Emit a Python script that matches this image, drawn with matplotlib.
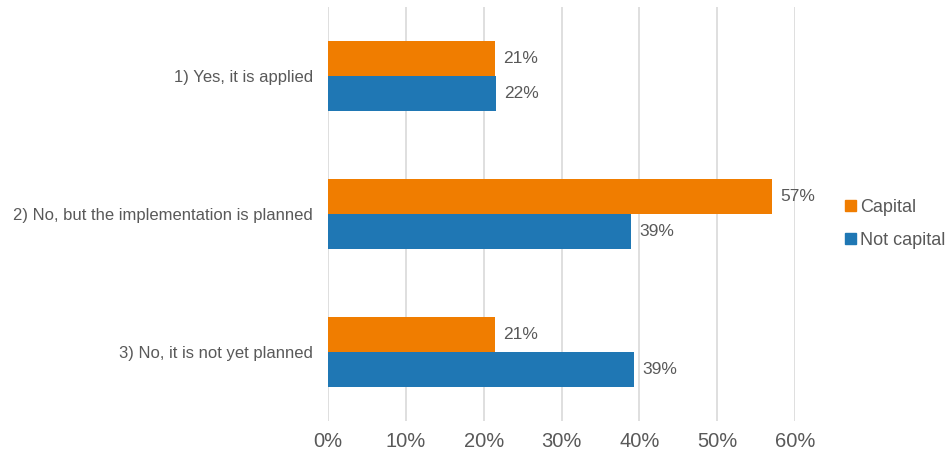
import matplotlib.pyplot as plt
import matplotlib as mpl
from matplotlib.patches import Patch

# data
categories = ['1) Yes, it is applied',
              '2) No, but the implementation is planned',
              '3) No, it is not yet planned']
capital = [21.4, 57.1, 21.4]
not_capital = [21.6, 38.9, 39.3]
series_names = ['Capital', 'Not capital']

ORANGE = '#F07D00'
BLUE = '#1F77B4'
GREY = '#595959'

mpl.rcParams['font.family'] = ['Liberation Sans', 'DejaVu Sans']

fig = plt.figure(figsize=(9.52, 4.55), dpi=100)
ax = fig.add_axes([328 / 952, 1 - 421 / 455, (795 - 328) / 952, 414 / 455])

pos = list(range(len(categories)))
h = 0.255
ax.barh([p - h / 2 for p in pos], capital, height=h, color=ORANGE, zorder=3)
ax.barh([p + h / 2 for p in pos], not_capital, height=h, color=BLUE, zorder=3)

# value labels next to the bars
for p, v in zip(pos, capital):
    ax.annotate(f'{v:.0f}%', (v, p - h / 2), xytext=(6, 0), textcoords='offset points',
                va='center', ha='left', fontsize=12.5, color=GREY)
for p, v in zip(pos, not_capital):
    ax.annotate(f'{v:.0f}%', (v, p + h / 2), xytext=(6, 0), textcoords='offset points',
                va='center', ha='left', fontsize=12.5, color=GREY)

ax.set_xlim(0, 60)
ax.set_ylim(2.5, -0.5)
ax.set_xticks(range(0, 61, 10))
ax.set_xticklabels([f'{t}%' for t in range(0, 61, 10)], fontsize=14.5, color=GREY)
ax.set_yticks(pos)
ax.set_yticklabels(categories, fontsize=12, color=GREY)
ax.tick_params(axis='both', length=0)
ax.tick_params(axis='x', pad=8)
ax.tick_params(axis='y', pad=11)
ax.grid(axis='x', color='#D9D9D9', linewidth=1.2, zorder=0)
for s in ax.spines.values():
    s.set_visible(False)

handles = [Patch(color=ORANGE), Patch(color=BLUE)]
fig.legend(handles, series_names, loc='center left', bbox_to_anchor=(845 / 952, 1 - 224 / 455),
           frameon=False, fontsize=13, handlelength=0.6, handleheight=0.6,
           handletextpad=0.25, labelspacing=0.9, labelcolor=GREY, borderaxespad=0,
           borderpad=0)

fig.savefig('out.png', dpi=100)
